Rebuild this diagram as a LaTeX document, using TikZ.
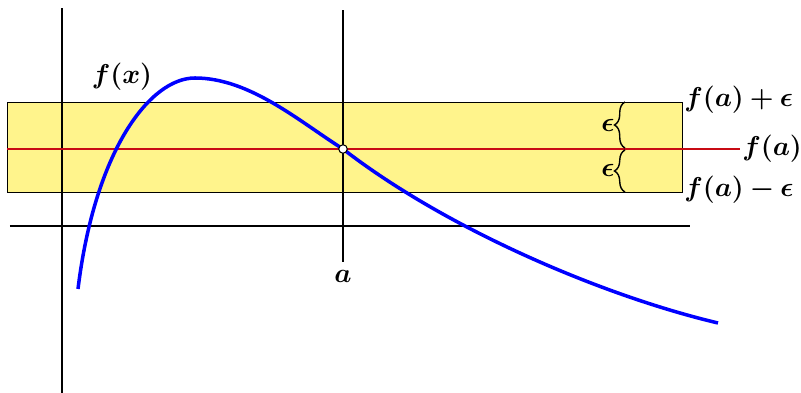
\RequirePackage{fix-cm}
\documentclass[tikz,border=0pt]{standalone}
\usepackage{bm}
\usepackage{amsmath}
\usepackage{tikz}
\usetikzlibrary{calc, decorations.pathreplacing, positioning}
\definecolor{bandyellow}{HTML}{FFF48C}
\definecolor{myred}{HTML}{C80A14}
\tikzset{
	biglabel/.style={font=\fontsize{15.5}{18}\selectfont}
}
\tikzset{
	axisline/.style={line width=1.6pt, black}
}
\newcommand{\bmath}[1]{$\bm{#1}$}

\begin{document}
\begin{tikzpicture}
      \useasboundingbox (0,0) rectangle (16.02,7.86);
      % epsilon band around f(a)
      \draw[fill=bandyellow, line width=0.5pt] (0.14,4.02) rectangle (13.64,5.82);
      % axes and the line x = a
      \draw[axisline] (1.24,0) -- (1.24,7.70);
      \draw[axisline] (0.2,3.34) -- (13.8,3.34);
      \draw[line width=0.8pt] (6.86,2.62) -- (6.86,7.66);
      % level f(a)
      \draw[myred, line width=1.3pt] (0.14,4.88) -- (14.8,4.88);
      % the graph
      \draw[blue, line width=2pt] (1.56,2.08) .. controls (1.9,4.86) and (3.0,6.3) .. (3.9,6.3)
        .. controls (5.0,6.3) and (6.0,5.42) .. (6.86,4.88)
        .. controls (8.9,3.3) and (12.0,1.96) .. (14.36,1.4);
      \node[circle, draw, fill=white, inner sep=0pt, minimum size=0.17cm, line width=0.6pt] (pa) at (6.86,4.88) {};
      % braces
      \draw[decorate, decoration={brace, amplitude=6pt}, line width=0.8pt] (12.5,4.90) -- (12.5,5.82);
      \draw[decorate, decoration={brace, amplitude=6pt}, line width=0.8pt] (12.5,4.02) -- (12.5,4.86);
      \node[biglabel] at (12.16,5.35) {\bmath{\epsilon}};
      \node[biglabel] at (12.16,4.45) {\bmath{\epsilon}};
      % labels
      \node[biglabel, anchor=west, inner sep=0pt] at (13.68,5.86) {\bmath{f(a)+\epsilon}};
      \node[biglabel, anchor=west, inner sep=0pt] at (14.84,4.88) {\bmath{f(a)}};
      \node[biglabel, anchor=west, inner sep=0pt] at (13.68,4.06) {\bmath{f(a)-\epsilon}};
      \node[biglabel] at (2.44,6.32) {\bmath{f(x)}};
      \node[biglabel] at (6.86,2.34) {\bmath{a}};
    \end{tikzpicture}
\end{document}
